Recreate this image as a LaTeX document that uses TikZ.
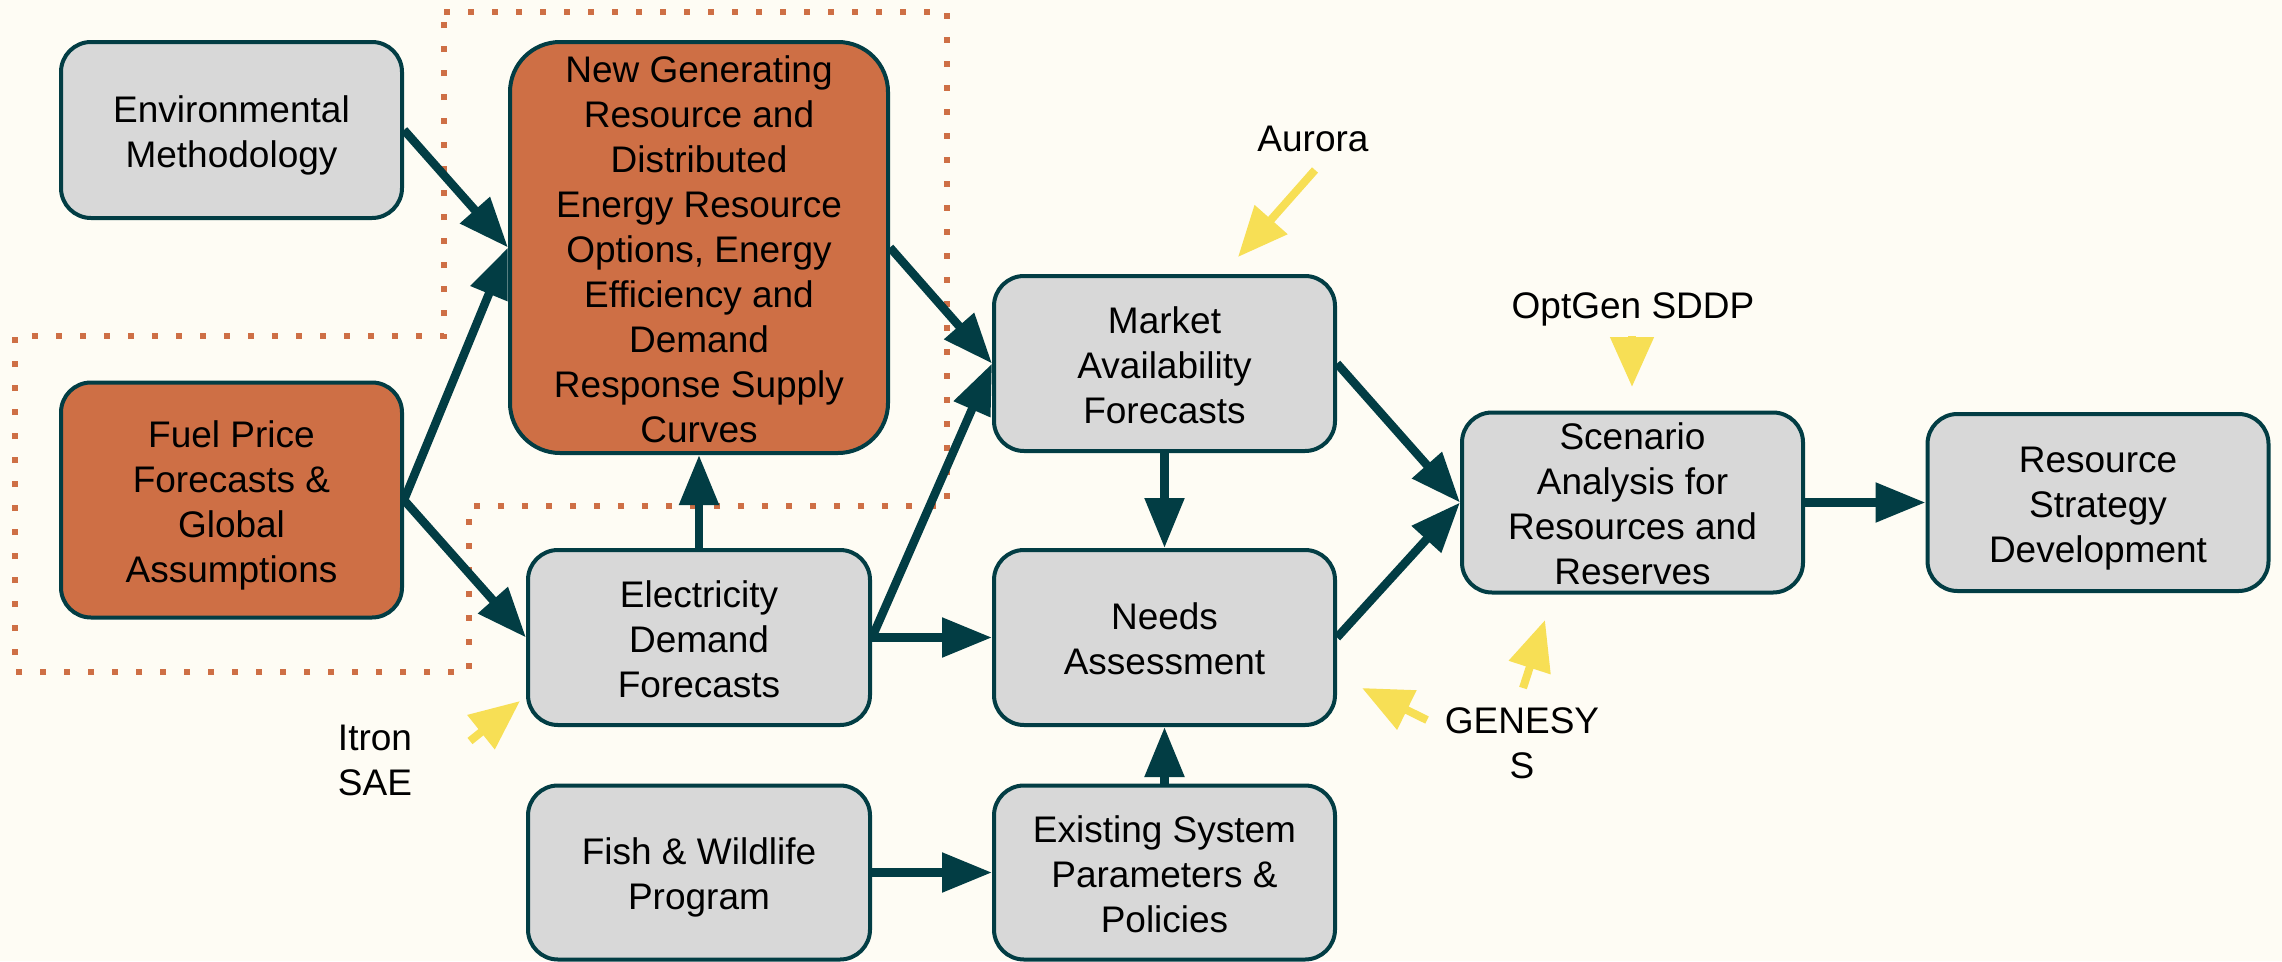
\documentclass[tikz,border=0pt]{standalone}
\usepackage{fontspec}
\setmainfont{Liberation Sans}
\usetikzlibrary{arrows.meta}
\definecolor{bgc}{HTML}{FEFCF4}
\definecolor{boxgrey}{HTML}{D8D8D8}
\definecolor{boxorange}{HTML}{CE6F45}
\definecolor{darkteal}{HTML}{023D44}
\definecolor{hiyellow}{HTML}{F7DF55}
\newcommand{\boxstrut}{\rule[-8pt]{0pt}{45pt}}
\newcommand{\bt}[1]{\boxstrut#1\boxstrut}
\tikzset{
  box/.style={draw=darkteal, line width=4pt, fill=boxgrey, rounded corners=30pt,
    inner sep=0pt, align=center, text=black,
    font=\fontsize{37}{45}\selectfont},
  obox/.style={box, fill=boxorange},
  lbl/.style={inner sep=0pt, align=center, text=black, font=\fontsize{37}{45}\selectfont},
  conn/.style={draw=darkteal, line width=8.5pt, -{Triangle[length=50pt,width=38pt]}},
  yarr/.style={draw=hiyellow, line width=8pt, -{Triangle[length=50pt,width=42pt]}},
  dots/.style={draw=boxorange, line width=6pt, dash pattern=on 6pt off 18pt}
}
\begin{document}
\begin{tikzpicture}[x=1pt,y=-1pt]
\fill[bgc] (0,0) rectangle (2282,961);
\useasboundingbox (0,0) rectangle (2282,961);

% dotted boundary
\draw[dots] (444,12) -- (947,12) -- (947,506) -- (469,506) -- (469,672) -- (15,672) -- (15,336) -- (444,336) -- cycle;

% boxes
\node[box, minimum width=341pt, minimum height=176pt] (env) at (231.5,130) {\bt{Environmental\\Methodology}};
\node[obox, minimum width=341pt, minimum height=235pt] (fuel) at (231.5,500) {\bt{Fuel Price\\Forecasts \&\\Global\\Assumptions}};
\node[obox, rounded corners=50pt, minimum width=378pt, minimum height=411pt] (newgen) at (699,247.5) {\bt{New Generating\\Resource and\\Distributed\\Energy Resource\\Options, Energy\\Efficiency and\\Demand\\Response Supply\\Curves}};
\node[box, minimum width=342pt, minimum height=175pt] (elec) at (699,637.5) {\bt{Electricity\\Demand\\Forecasts}};
\node[box, minimum width=341pt, minimum height=175pt] (market) at (1164.5,363.5) {\bt{Market\\Availability\\Forecasts}};
\node[box, minimum width=341pt, minimum height=175pt] (needs) at (1164.5,637.5) {\bt{Needs\\Assessment}};
\node[box, minimum width=342pt, minimum height=174pt] (fish) at (699,872.5) {\bt{Fish \& Wildlife\\Program}};
\node[box, minimum width=341pt, minimum height=174pt] (exist) at (1164.5,872.5) {\bt{Existing System\\Parameters \&\\Policies}};
\node[box, minimum width=341pt, minimum height=177pt] (scen) at (1632.5,502.5) {\bt{Scenario\\Analysis for\\Resources and\\Reserves}};
\node[box, minimum width=341pt, minimum height=177pt] (res) at (2098,502.5) {\bt{Resource\\Strategy\\Development}};

% labels
\node[lbl] (aurora) at (1313,136.5) {\bt{Aurora}};
\node[lbl] (optgen) at (1633,303.5) {\bt{OptGen SDDP}};
\node[lbl] (genesys) at (1522,741) {\bt{GENESY\\S}};
\node[lbl] (itron) at (375,758) {\bt{Itron\\SAE}};

% connectors
\draw[conn] (env.east) -- (newgen.west);
\draw[conn] (fuel.east) -- (newgen.west);
\draw[conn] (fuel.east) -- (elec.west);
\draw[conn] (elec.north) -- (newgen.south);
\draw[conn] (newgen.east) -- (market.west);
\draw[conn] (elec.east) -- (market.west);
\draw[conn] (elec.east) -- (needs.west);
\draw[conn] (market.south) -- (needs.north);
\draw[conn] (exist.north) -- (needs.south);
\draw[conn] (fish.east) -- (exist.west);
\draw[conn] (market.east) -- (scen.west);
\draw[conn] (needs.east) -- (scen.west);
\draw[conn] (scen.east) -- (res.west);

% yellow tool arrows
\coordinate (auroraT) at (1315,170);
\coordinate (auroraH) at (1238,257);
\coordinate (optT) at (1632,336);
\coordinate (optH) at (1632,387);
\coordinate (gen1T) at (1523,688);
\coordinate (gen1H) at (1545,620);
\coordinate (gen2T) at (1427,720);
\coordinate (gen2H) at (1362,688);
\coordinate (itronT) at (470,741);
\coordinate (itronH) at (520,701);
\draw[yarr] (auroraT) -- (auroraH);
\draw[yarr] (optT) -- (optH);
\draw[yarr] (gen1T) -- (gen1H);
\draw[yarr] (gen2T) -- (gen2H);
\draw[yarr] (itronT) -- (itronH);
\end{tikzpicture}
\end{document}
